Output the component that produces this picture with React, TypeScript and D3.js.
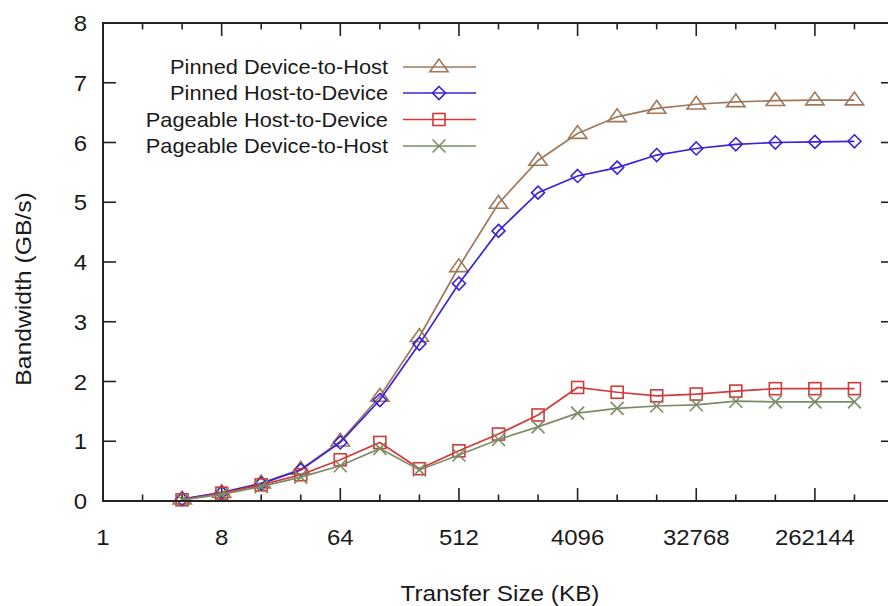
import React from "react";
import * as d3 from "d3";

const sizesKB = [4, 8, 16, 32, 64, 128, 256, 512, 1024, 2048, 4096, 8192, 16384, 32768, 65536, 131072, 262144, 524288];
const pinnedD2H = [0.03, 0.14, 0.30, 0.53, 1.00, 1.75, 2.75, 3.92, 4.98, 5.70, 6.15, 6.43, 6.57, 6.64, 6.68, 6.70, 6.71, 6.71];
const pinnedH2D = [0.03, 0.14, 0.29, 0.52, 0.98, 1.69, 2.63, 3.64, 4.52, 5.16, 5.44, 5.58, 5.79, 5.90, 5.97, 6.00, 6.01, 6.02];
const pageableH2D = [0.02, 0.13, 0.27, 0.44, 0.69, 0.98, 0.54, 0.84, 1.12, 1.44, 1.90, 1.82, 1.76, 1.79, 1.84, 1.88, 1.88, 1.88];
const pageableD2H = [0.02, 0.11, 0.24, 0.40, 0.59, 0.88, 0.52, 0.77, 1.03, 1.24, 1.47, 1.55, 1.59, 1.61, 1.67, 1.66, 1.66, 1.66];

const seriesNames = ["Pinned Device-to-Host", "Pinned Host-to-Device", "Pageable Host-to-Device", "Pageable Device-to-Host"];
const seriesColors = ["#a0785a", "#3a22d8", "#d03a38", "#7c8c64"];
const seriesMarkers = ["triangle", "diamond", "square", "cross"];
const seriesValues = [pinnedD2H, pinnedH2D, pageableH2D, pageableD2H];

const xMajorTicks = [1, 8, 64, 512, 4096, 32768, 262144];
const xMinorTicks = [2, 4, 16, 32, 128, 256, 1024, 2048, 8192, 16384, 65536, 131072, 524288];
const yTicks = [0, 1, 2, 3, 4, 5, 6, 7, 8];

const W = 888;
const H = 606;
const FONT = "'Liberation Sans', Arial, Helvetica, sans-serif";

const x = d3.scaleLog().base(2).domain([1, 1048576]).range([103, 894]);
const y = d3.scaleLinear().domain([0, 8]).range([501, 23]);

function Marker({ type, cx, cy, color }: { type: string; cx: number; cy: number; color: string }) {
  const sw = 1.6;
  if (type === "triangle") {
    const s = 8;
    const pts = [[cx, cy - s], [cx - s * 1.15, cy + s * 0.6], [cx + s * 1.15, cy + s * 0.6]];
    return <polygon points={pts.map((p) => p.join(",")).join(" ")} fill="none" stroke={color} strokeWidth={sw} />;
  }
  if (type === "diamond") {
    const s = 6.5;
    const pts = [[cx, cy - s], [cx + s, cy], [cx, cy + s], [cx - s, cy]];
    return <polygon points={pts.map((p) => p.join(",")).join(" ")} fill="none" stroke={color} strokeWidth={sw} />;
  }
  if (type === "square") {
    const s = 6;
    return <rect x={cx - s} y={cy - s} width={2 * s} height={2 * s} fill="none" stroke={color} strokeWidth={sw} />;
  }
  const s = 6.5;
  return (
    <g stroke={color} strokeWidth={sw}>
      <line x1={cx - s} y1={cy - s} x2={cx + s} y2={cy + s} />
      <line x1={cx - s} y1={cy + s} x2={cx + s} y2={cy - s} />
    </g>
  );
}

function T({ x: tx, y: ty, anchor, size, sx, children, rotate }: { x: number; y: number; anchor: string; size: number; sx: number; children: React.ReactNode; rotate?: boolean }) {
  const tr = rotate ? `translate(${tx},${ty}) rotate(-90) scale(${sx},1)` : `translate(${tx},${ty}) scale(${sx},1)`;
  return (
    <text transform={tr} textAnchor={anchor} fontSize={size} fontFamily={FONT} fill="#1a1a1a">
      {children}
    </text>
  );
}

export default function App() {
  const line = d3
    .line<number>()
    .x((_, i) => x(sizesKB[i]))
    .y((v) => y(v));

  const x0 = x.range()[0];
  const x1 = x.range()[1];
  const y0 = y.range()[0];
  const y1 = y.range()[1];

  const legendRows = [67, 93, 119.5, 146];

  return (
    <svg width={W} height={H} style={{ position: "absolute", left: 0, top: 0, background: "#fff" }}>
      <rect x={0} y={0} width={W} height={H} fill="#fff" />
      <g stroke="#222" strokeWidth={1.6}>
        {yTicks.map((t) => (
          <g key={"y" + t}>
            <line x1={x0} x2={x0 + 13} y1={y(t)} y2={y(t)} />
            <line x1={x1} x2={x1 - 13} y1={y(t)} y2={y(t)} />
          </g>
        ))}
        {xMajorTicks.map((t) => (
          <g key={"xm" + t}>
            <line x1={x(t)} x2={x(t)} y1={y0} y2={y0 - 13} />
            <line x1={x(t)} x2={x(t)} y1={y1} y2={y1 + 13} />
          </g>
        ))}
        {xMinorTicks.map((t) => (
          <g key={"xn" + t}>
            <line x1={x(t)} x2={x(t)} y1={y0} y2={y0 - 6.5} />
            <line x1={x(t)} x2={x(t)} y1={y1} y2={y1 + 6.5} />
          </g>
        ))}
      </g>
      {seriesValues.map((vals, si) => (
        <g key={"s" + si}>
          <path d={line(vals) || ""} fill="none" stroke={seriesColors[si]} strokeWidth={1.7} />
          {vals.map((v, i) => (
            <Marker key={i} type={seriesMarkers[si]} cx={x(sizesKB[i])} cy={y(v)} color={seriesColors[si]} />
          ))}
        </g>
      ))}
      <rect x={x0} y={y1} width={x1 - x0} height={y0 - y1} fill="none" stroke="#222" strokeWidth={2} />
      {yTicks.map((t) => (
        <T key={"yl" + t} x={87} y={y(t) + 8} anchor="end" size={22} sx={1.09}>
          {t}
        </T>
      ))}
      {xMajorTicks.map((t) => (
        <T key={"xl" + t} x={x(t)} y={545} anchor="middle" size={22} sx={1.09}>
          {t}
        </T>
      ))}
      <T x={500} y={600.5} anchor="middle" size={21.5} sx={1.13}>
        Transfer Size (KB)
      </T>
      <T x={31} y={289} anchor="middle" size={21.5} sx={1.15} rotate>
        Bandwidth (GB/s)
      </T>
      {seriesNames.map((name, si) => (
        <g key={"lg" + si}>
          <T x={388} y={legendRows[si] + 7.2} anchor="end" size={20} sx={1.09}>
            {name}
          </T>
          <line x1={403} x2={476} y1={legendRows[si]} y2={legendRows[si]} stroke={seriesColors[si]} strokeWidth={1.7} />
          <Marker type={seriesMarkers[si]} cx={439} cy={legendRows[si]} color={seriesColors[si]} />
        </g>
      ))}
    </svg>
  );
}
